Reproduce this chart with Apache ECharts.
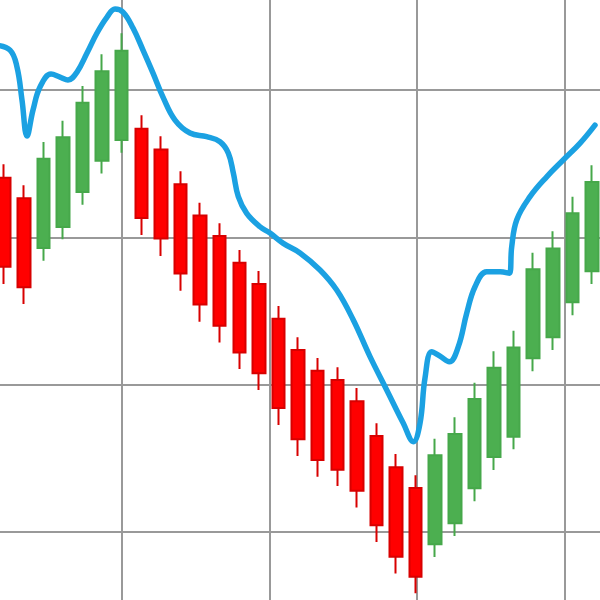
<!DOCTYPE html>
<html><head><meta charset="utf-8">
<script src="https://cdn.jsdelivr.net/npm/echarts@6.0.0/dist/echarts.min.js"></script>
<style>html,body{margin:0;padding:0;background:#fff}#c{width:600px;height:600px}</style>
</head><body><div id="c"></div>
<script>
// ---- data ----
const categories = Array.from({length: 31}, (_, i) => String(i + 1));
const openVals  = [340.5,326.5,292.7,307.0,330.8,352.0,366.0,373.7,359.7,336.1,314.9,300.9,282.8,268.3,244.8,223.5,209.5,203.1,188.7,165.1,143.9,129.8, 91.6,105.9,129.6,150.9,164.7,217.9,232.1,255.9,276.9];
const closeVals = [280.1,266.1,353.4,367.9,391.4,412.7,426.7,313.1,299.2,275.4,254.4,240.0,221.9,207.7,184.1,162.9,148.9,142.3,128.0,104.5, 83.2, 69.6,152.1,166.5,190.3,211.5,225.3,278.3,292.5,316.3,337.5];
const lowVals   = [268.3,254.7,284.1,298.7,322.1,343.4,357.4,301.6,287.3,263.8,242.7,228.7,210.6,196.4,172.6,151.6,137.5,131.2,116.7, 93.2, 71.9, 58.4, 83.0, 97.3,120.8,142.1,156.1,209.1,223.5,247.1,268.3];
const highVals  = [349.6,335.3,364.7,379.2,402.7,424.2,438.5,382.8,368.6,344.8,323.5,309.5,291.4,277.1,253.4,232.1,218.1,211.8,197.7,173.8,152.9,138.5,163.3,177.8,201.3,222.6,236.6,289.6,304.1,327.6,348.9];
// smooth trend line: position in candle-index units, value
const lineX = [-0.469,0.297,0.654,0.909,1.164,1.471,1.828,2.389,2.849,3.257,3.716,4.227,4.737,5.248,5.656,6.064,6.575,7.085,7.596,8.106,8.719,9.484,10.336,11.015,11.439,11.694,11.950,12.378,13.057,13.567,14.246,15.098,16.119,16.972,17.819,18.672,19.524,20.371,20.882,21.224,21.479,21.821,22.245,22.719,23.179,23.607,24.031,24.628,25.307,25.781,25.904,26.159,26.838,27.690,28.533,29.385,30.155];
const lineY = [430.5,427.1,415.6,393.2,368.8,386.4,402.0,410.8,408.8,406.8,412.2,425.1,438.7,449.5,455.0,452.9,442.1,427.1,411.5,395.2,379.6,370.8,368.3,364.9,357.2,343.7,327.6,316.3,307.2,302.9,295.9,289.4,277.8,264.2,243.9,219.0,196.4,173.8,161.3,173.8,204.5,222.4,219.4,215.6,225.8,248.4,266.5,276.7,276.7,275.6,293.6,311.8,327.6,341.1,352.5,363.8,376.2];

// ---- build ----
const candleData = categories.map((c, i) => [openVals[i], closeVals[i], lowVals[i], highVals[i]]);
const lineData = lineX.map((x, i) => [x, lineY[i]]);

const hidden = {show: false};
const chart = echarts.init(document.getElementById('c'), null, {renderer: 'canvas'});
chart.setOption({
  animation: false,
  backgroundColor: '#ffffff',
  grid: [
    {left: -5.6, right: -1.75, top: -57.3, bottom: -79.3, outerBoundsMode: 'none', containLabel: false},
    {left: -25.6, right: -112.4, top: -10, bottom: -10, outerBoundsMode: 'none', containLabel: false}
  ],
  xAxis: [
    {type: 'category', gridIndex: 0, data: categories, boundaryGap: true,
     axisLine: hidden, axisTick: hidden, axisLabel: hidden, splitLine: hidden},
    {type: 'value', gridIndex: 0, min: -0.5, max: 30.5,
     axisLine: hidden, axisTick: hidden, axisLabel: hidden, splitLine: hidden},
    {type: 'value', gridIndex: 1, min: 0, max: 5, interval: 1,
     axisLine: hidden, axisTick: hidden, axisLabel: hidden,
     splitLine: {show: true, lineStyle: {color: '#999999', width: 2}}}
  ],
  yAxis: [
    {type: 'value', gridIndex: 0, min: 0, max: 500, interval: 100,
     axisLine: hidden, axisTick: hidden, axisLabel: hidden,
     splitLine: {show: true, lineStyle: {color: '#999999', width: 2}}},
    {type: 'value', gridIndex: 1, min: 0, max: 1,
     axisLine: hidden, axisTick: hidden, axisLabel: hidden, splitLine: hidden}
  ],
  series: [
    {
      type: 'candlestick', xAxisIndex: 0, yAxisIndex: 0,
      data: candleData, barWidth: 13,
      itemStyle: {color: '#4caf50', borderColor: '#46a84a', color0: '#ff0000', borderColor0: '#d80000', borderWidth: 2},
      z: 3
    },
    {
      type: 'line', xAxisIndex: 1, yAxisIndex: 0,
      data: lineData, showSymbol: false, smooth: 0.4,
      lineStyle: {color: '#1ba1e2', width: 5.5, cap: 'round', join: 'round'},
      z: 4
    }
  ]
});
</script>
</body></html>
